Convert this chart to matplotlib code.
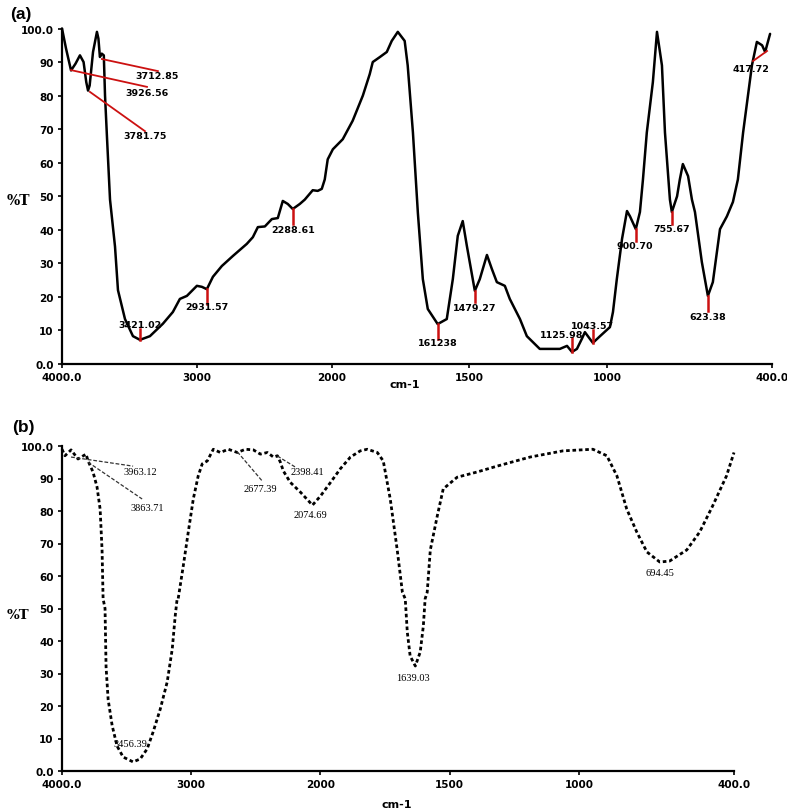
import numpy as np
import matplotlib
matplotlib.use("Agg")
import matplotlib.pyplot as plt

# ---- panel (a) spectrum: wavenumber (cm-1) vs %T ----
wn_a = [4000, 3970, 3933, 3900, 3867, 3840, 3820, 3807, 3795, 3770, 3741, 3730,
        3719, 3705, 3690, 3681, 3667, 3644, 3607, 3585, 3533, 3474, 3422, 3348,
        3252, 3178, 3126, 3074, 3000, 2963, 2926, 2881, 2815, 2733, 2630, 2585,
        2548, 2496, 2444, 2400, 2363, 2326, 2289, 2237, 2200, 2141, 2104, 2074,
        2052, 2030, 1996, 1960, 1924, 1887, 1862, 1851, 1825, 1800, 1782, 1760,
        1735, 1724, 1705, 1687, 1669, 1651, 1615, 1582, 1560, 1542, 1524, 1509,
        1480, 1462, 1436, 1418, 1400, 1371, 1353, 1316, 1291, 1244, 1171, 1145,
        1127, 1109, 1091, 1080, 1062, 1051, 1025, 989, 978, 964, 945, 927, 916,
        895, 880, 869, 855, 833, 818, 800, 789, 771, 764, 745, 735, 724, 705,
        691, 680, 655, 633, 615, 589, 564, 542, 524, 505, 473, 455, 436, 425, 407]
t_a = [100, 94, 87.5, 89.5, 92, 90, 84, 81.5, 83, 93, 99, 97,
       91.5, 92.5, 92, 80, 68, 49, 35, 22, 13.4, 8.3, 7.2, 8.3,
       12, 15.5, 19.4, 20.3, 23.3, 23, 22.3, 26, 29.2, 32.2, 35.8, 37.8,
       40.8, 41, 43.2, 43.5, 48.6, 47.7, 46.2, 47.7, 49, 51.8, 51.6, 52.2,
       55, 61, 64, 67, 72.5, 80, 86.4, 90, 91.5, 93, 96.3, 99,
       96.3, 89, 69, 45, 25.3, 16.4, 11.9, 13.4, 25.3, 38.2, 42.6, 35.2,
       21.8, 25.3, 32.5, 28.3, 24.4, 23.3, 19.4, 13.4, 8.3, 4.5, 4.5, 5.4,
       3.6, 4.5, 7.5, 9.5, 7.5, 6.3, 8.3, 11, 15.5, 25.3, 37.3, 45.6, 44,
       40.2, 45.3, 55, 69, 84, 99, 89, 69, 49, 45.3, 50, 55, 59.6, 56,
       49, 45.3, 30.4, 20.3, 24.4, 40.2, 44, 48.3, 55, 69, 89, 96, 95, 93, 98.4]

# peak labels (a): text, wavenumber, curve %T, tick end %T, label x, label y
peaks_a = [
    ("3421.02", 3421, 7.2, 10.4, 3421, 11.7),
    ("2931.57", 2926, 22.3, 17.9, 2926, 17.0),
    ("2288.61", 2289, 46.2, 41.7, 2289, 40.2),
    ("161238", 1615, 11.9, 7.5, 1615, 6.3),
    ("1479.27", 1480, 21.8, 18.5, 1480, 16.7),
    ("1125.98", 1127, 3.6, 7.7, 1164, 8.9),
    ("1043.57", 1051, 6.3, 10.1, 1051, 11.6),
    ("900.70", 895, 40.2, 36.7, 898, 35.2),
    ("755.67", 764, 45.3, 41.7, 764, 40.5),
    ("623.38", 633, 20.3, 15.9, 633, 14.3),
]
# leader-line labels (a): text, start (wn, %T), end (wn, %T), label (wn, %T)
leaders_a = [
    ("3712.85", (3704, 90.9), (3289, 87.3), (3296, 86.0)),
    ("3926.56", (3933, 87.6), (3370, 82.6), (3370, 81.0)),
    ("3781.75", (3793, 81.1), (3385, 69.4), (3385, 68.0)),
    ("417.72", (469, 90.3), (418, 93.3), (476, 88.2)),
]

# ---- panel (b) spectrum ----
wn_b = [4000, 3977, 3930, 3876, 3814, 3798, 3760, 3729, 3705, 3690, 3682, 3667,
        3659, 3643, 3612, 3574, 3527, 3450, 3395, 3341, 3295, 3240, 3186, 3147,
        3124, 3109, 3101, 3062, 3023, 2984, 2946, 2915, 2876, 2829, 2775, 2713,
        2643, 2581, 2519, 2465, 2411, 2364, 2333, 2310, 2287, 2233, 2155, 2062,
        2000, 1961, 1923, 1884, 1846, 1819, 1780, 1757, 1730, 1703, 1683, 1672,
        1664, 1653, 1633, 1614, 1602, 1595, 1587, 1575, 1548, 1525, 1471, 1394,
        1317, 1189, 1062, 946, 892, 853, 815, 776, 737, 687, 649, 583, 533, 483,
        429, 400]
t_b = [99, 97, 98.8, 96, 97.5, 95.4, 92, 87.4, 80.6, 68, 53, 50,
       32, 22, 14, 7.7, 4.3, 2.8, 3.7, 6.8, 12, 19, 27.4, 37.5,
       47.7, 53, 53, 63, 73.5, 83.7, 90.8, 94.5, 95.4, 99, 98, 99,
       98, 99, 98.8, 97.5, 98, 96.6, 97, 95, 92.3, 88.8, 85.8, 81.8,
       84.6, 88.8, 93, 96.6, 98.5, 99, 98, 95.4, 83.7, 68, 55, 53,
       42.7, 35.4, 32.3, 36.6, 44.6, 53, 55, 68, 78.5, 86.8, 90.4, 92,
       93.8, 96.6, 98.5, 99, 97, 90.8, 80.6, 73.5, 67.4, 64.3, 64.6, 68, 73.5, 81.5,
       90.8, 98]

# labels (b): text, label (wn, %T)
labels_b = [
    ("3963.12", 3395, 92.0),
    ("3863.71", 3341, 81.2),
    ("2677.39", 2465, 86.8),
    ("2398.41", 2101, 92.0),
    ("2074.69", 2077, 79.0),
    ("3456.39", 3473, 8.6),
    ("1639.03", 1641, 28.9),
    ("694.45", 687, 61.2),
]
leaders_b = [
    ((3930, 96.6), (3450, 93.8)),
    ((3798, 95.0), (3380, 83.7)),
    ((2643, 98.2), (2450, 89.2)),
    ((2333, 96.9), (2194, 93.5)),
]

xticks = [4000, 3000, 2000, 1500, 1000, 400]
xtick_labels = ["4000.0", "3000", "2000", "1500", "1000", "400.0"]
yticks = [0, 10, 20, 30, 40, 50, 60, 70, 80, 90, 100]
ytick_labels = ["0.0", "10", "20", "30", "40", "50", "60", "70", "80", "90", "100.0"]


def split_scale(k):
    # spectrometer-style axis: region below 2000 cm-1 stretched k times
    def fwd(x):
        x = np.asarray(x, float)
        return np.where(x >= 2000, x - 2000, (x - 2000) * k)

    def inv(u):
        u = np.asarray(u, float)
        return np.where(u >= 0, u + 2000, u / k + 2000)
    return fwd, inv


def style_axes(ax, k):
    ax.set_xscale("function", functions=split_scale(k))
    ax.set_xlim(4000, 400)
    ax.set_ylim(0, 100)
    ax.set_xticks(xticks)
    ax.set_xticklabels(xtick_labels)
    ax.set_yticks(yticks)
    ax.set_yticklabels(ytick_labels)
    ax.minorticks_off()
    for s in ["top", "right"]:
        ax.spines[s].set_visible(False)
    for s in ["left", "bottom"]:
        ax.spines[s].set_linewidth(1.6)
    ax.tick_params(direction="out", length=3, width=1.2, pad=3)
    for lab in ax.get_xticklabels() + ax.get_yticklabels():
        lab.set_fontweight("bold")
        lab.set_fontsize(7.5)
        lab.set_family("DejaVu Sans")


fig = plt.figure(figsize=(7.87, 8.12), dpi=100)

# ---------------- (a) ----------------
ax1 = fig.add_axes([62 / 787, 1 - 365 / 812, 710 / 787, 335.5 / 812])
style_axes(ax1, 2.04)
ax1.plot(wn_a, t_a, color="black", lw=1.8, clip_on=False,
         solid_joinstyle="round", solid_capstyle="round")
for txt, wn, y0, y1, lx, ly in peaks_a:
    ax1.plot([wn, wn], [y0, y1], color="#cc1111", lw=1.8)
    ax1.text(lx, ly, txt, ha="center", va="center", fontsize=6.8,
             fontweight="bold", color="black")
for txt, p0, p1, pl in leaders_a:
    ax1.plot([p0[0], p1[0]], [p0[1], p1[1]], color="#cc1111", lw=1.3)
    ax1.text(pl[0], pl[1], txt, ha="center", va="center", fontsize=6.8,
             fontweight="bold", color="black")

fig.text(10 / 787, 1 - 15 / 812, "(a)", fontsize=12.5, fontweight="bold",
         family="Liberation Sans", va="center", ha="left")
fig.text(18 / 787, 1 - 201 / 812, "%T", fontsize=10, fontweight="bold",
         family="DejaVu Serif", va="center", ha="center")
fig.text(405 / 787, 1 - 385 / 812, "cm-1", fontsize=8, fontweight="bold",
         family="DejaVu Sans", va="center", ha="center")

# ---------------- (b) ----------------
ax2 = fig.add_axes([62 / 787, 1 - 772 / 812, 672 / 787, 325 / 812])
style_axes(ax2, 2.0)
ax2.plot(wn_b, t_b, color="black", lw=2.0, linestyle=(0, (1.3, 1.0)),
         clip_on=False)
for p0, p1 in leaders_b:
    ax2.plot([p0[0], p1[0]], [p0[1], p1[1]], color="#333333", lw=0.9,
             linestyle=(0, (3, 1.5)))
for txt, lx, ly in labels_b:
    ax2.text(lx, ly, txt, ha="center", va="center", fontsize=7.5,
             family="Liberation Serif", color="black")

fig.text(12 / 787, 1 - 428 / 812, "(b)", fontsize=12.5, fontweight="bold",
         family="Liberation Sans", va="center", ha="left")
fig.text(18 / 787, 1 - 616 / 812, "%T", fontsize=9.5, fontweight="bold",
         family="DejaVu Serif", va="center", ha="center")
fig.text(397 / 787, 1 - 805 / 812, "cm-1", fontsize=8, fontweight="bold",
         family="DejaVu Sans", va="center", ha="center")

fig.savefig("out.png", dpi=100)
